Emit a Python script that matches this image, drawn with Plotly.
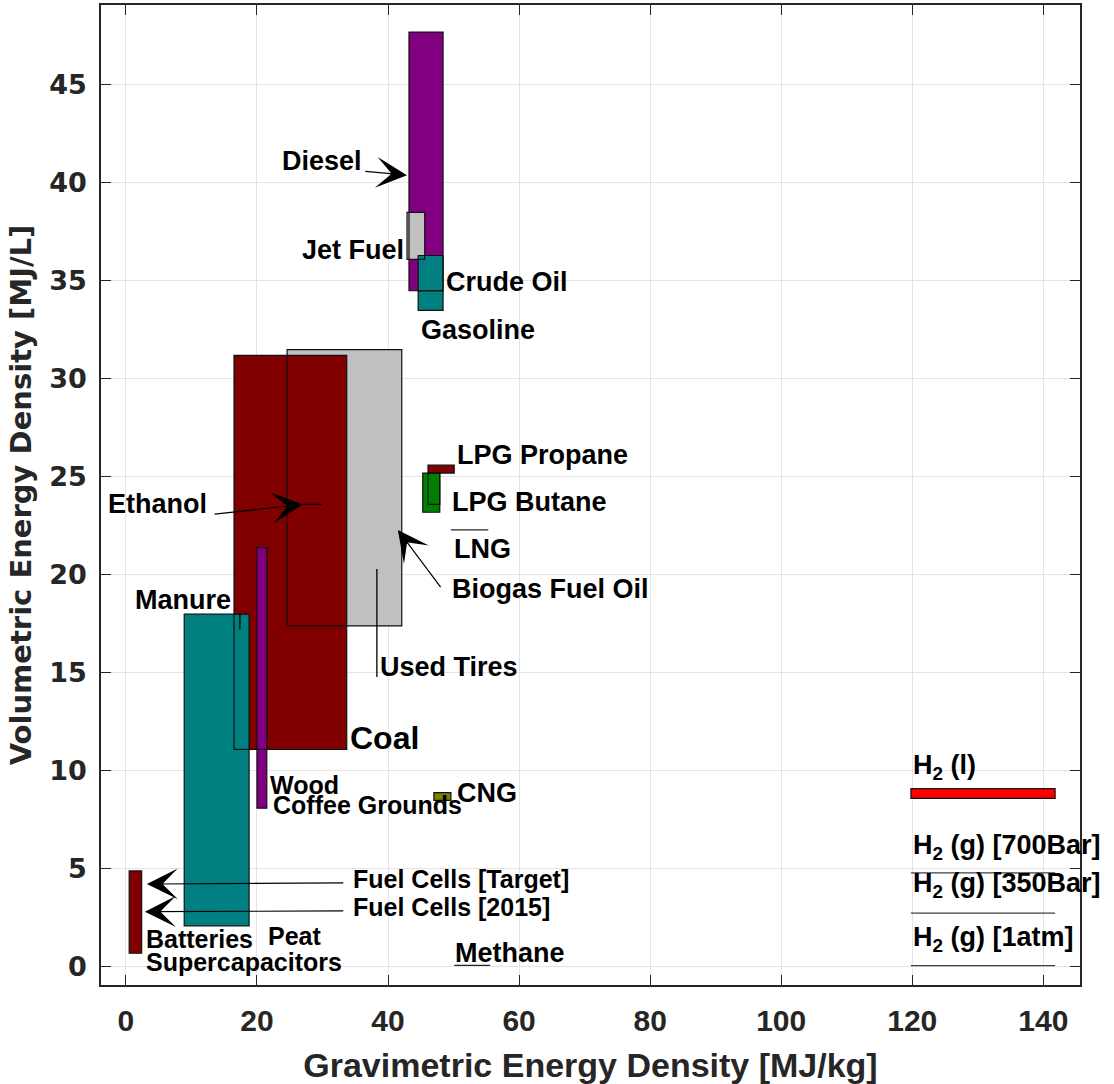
import plotly.graph_objects as go

# ---------------- data ----------------
box_names = ["Used Tires", "Coal", "Manure", "Wood", "Diesel", "Jet Fuel",
             "Crude Oil", "Gasoline", "LPG Butane", "LPG Butane 2",
             "LPG Propane", "CNG", "Batteries", "H2 (l)"]
box_xmin = [24.6, 16.5, 8.9, 20.0, 43.2, 42.9, 44.6, 44.6, 45.3, 46.1, 46.1, 47.0, 0.5, 119.8]
box_xmax = [42.1, 33.7, 18.8, 21.5, 48.4, 45.6, 48.4, 48.4, 47.9, 47.9, 50.1, 49.6, 2.4, 141.8]
box_ymin = [17.4, 11.1, 2.1, 8.1, 34.5, 36.1, 34.5, 33.5, 23.2, 23.6, 25.2, 8.5, 0.7, 8.6]
box_ymax = [31.5, 31.2, 18.0, 21.4, 47.7, 38.5, 36.3, 34.5, 25.2, 25.2, 25.6, 8.9, 4.9, 9.1]

line_names = ["Ethanol", "Used Tires mark", "Manure mark", "LNG", "Methane",
              "H2 700Bar", "H2 350Bar", "H2 1atm"]
line_x0 = [27.0, 38.3, 17.4, 49.6, 50.1, 119.8, 119.8, 119.8]
line_x1 = [29.9, 38.3, 17.4, 55.3, 55.6, 141.8, 141.8, 141.8]
line_y0 = [23.6, 14.8, 17.2, 22.3, 0.08, 4.8, 2.75, 0.07]
line_y1 = [23.6, 20.3, 18.0, 22.3, 0.08, 4.8, 2.75, 0.07]

arrow_names = ["Diesel", "Ethanol", "Biogas Fuel Oil", "Fuel Cells [Target]", "Fuel Cells [2015]"]
arrow_tail_x = [36.3, 13.3, 48.2, 33.4, 33.4]
arrow_tail_y = [40.6, 23.1, 19.3, 4.29, 2.86]
arrow_head_x = [42.9, 27.0, 41.5, 3.2, 2.9]
arrow_head_y = [40.4, 23.6, 22.3, 4.23, 2.82]

label_texts = ["Diesel", "Jet Fuel", "Crude Oil", "Gasoline", "Ethanol", "Manure",
               "Coal", "Used Tires", "LPG Propane", "LPG Butane", "LNG",
               "Biogas Fuel Oil", "Wood", "Coffee Grounds", "CNG",
               "Fuel Cells [Target]", "Fuel Cells [2015]", "Batteries",
               "Supercapacitors", "Peat", "Methane",
               "H<sub>2</sub> (l)", "H<sub>2</sub> (g) [700Bar]",
               "H<sub>2</sub> (g) [350Bar]", "H<sub>2</sub> (g) [1atm]"]
label_x = [23.5, 42.8, 48.5, 44.7, -3.05, 1.07, 33.9, 38.5, 50.2, 49.5, 49.7,
           49.5, 21.7, 22.1, 50.2, 34.3, 34.3, 2.75, 2.75, 21.4, 49.9,
           119.8, 119.8, 119.8, 119.8]
label_y = [41.1, 36.6, 34.95, 32.5, 23.6, 18.7, 11.7, 15.3, 26.1, 23.7, 21.3,
           19.3, 9.3, 8.27, 8.9, 4.5, 3.06, 1.43, 0.26, 1.58, 0.71,
           10.2, 6.1, 4.18, 1.43]

x_ticks = [0, 20, 40, 60, 80, 100, 120, 140]
y_ticks = [0, 5, 10, 15, 20, 25, 30, 35, 40, 45]

# ---------------- styles ----------------
box_color = {
    "Used Tires": "#C0C0C0", "Coal": "#800000", "Manure": "#008080",
    "Wood": "#800080", "Diesel": "#800080", "Jet Fuel": "#C0C0C0",
    "Crude Oil": "#008080", "Gasoline": "#008080", "LPG Butane": "#008000",
    "LPG Butane 2": "#008000", "LPG Propane": "#800000", "CNG": "#808000",
    "Batteries": "#800000", "H2 (l)": "#FF0000",
}
line_color = {
    "Ethanol": "#000000", "Used Tires mark": "#000000", "Manure mark": "#000000",
    "LNG": "#262626", "Methane": "#262626", "H2 700Bar": "#404040",
    "H2 350Bar": "#404040", "H2 1atm": "#404040",
}
left_anchor = {"Jet Fuel": "right"}
big_labels = {"Coal": 32}
small_labels = {"Wood", "Coffee Grounds", "Fuel Cells [Target]", "Fuel Cells [2015]",
                "Batteries", "Supercapacitors", "Peat"}

FONT = "Liberation Sans, Arial, sans-serif"
INK = "#262626"

fig = go.Figure()
# invisible trace to establish axes
fig.add_trace(go.Scatter(x=[box_xmin[0]], y=[box_ymin[0]], mode="markers",
                         marker=dict(opacity=0), hoverinfo="skip", showlegend=False))

shapes = []
# fills first
for n, x0, x1, y0, y1 in zip(box_names, box_xmin, box_xmax, box_ymin, box_ymax):
    shapes.append(dict(type="rect", xref="x", yref="y", x0=x0, x1=x1, y0=y0, y1=y1,
                       fillcolor=box_color[n], line=dict(width=0)))
# outlines on top
for n, x0, x1, y0, y1 in zip(box_names, box_xmin, box_xmax, box_ymin, box_ymax):
    shapes.append(dict(type="rect", xref="x", yref="y", x0=x0, x1=x1, y0=y0, y1=y1,
                       fillcolor="rgba(0,0,0,0)", line=dict(width=1.2, color="#111111")))
for n, x0, x1, y0, y1 in zip(line_names, line_x0, line_x1, line_y0, line_y1):
    shapes.append(dict(type="line", xref="x", yref="y", x0=x0, x1=x1, y0=y0, y1=y1,
                       line=dict(width=1.3, color=line_color[n])))

annotations = []
for n, tx, ty, hx, hy in zip(arrow_names, arrow_tail_x, arrow_tail_y, arrow_head_x, arrow_head_y):
    annotations.append(dict(x=hx, y=hy, ax=tx, ay=ty, xref="x", yref="y", axref="x", ayref="y",
                            text="", showarrow=True, arrowhead=3, arrowsize=4.3,
                            arrowwidth=1.2, arrowcolor="#000000", standoff=0))
for t, x, y in zip(label_texts, label_x, label_y):
    size = big_labels.get(t, 25 if t in small_labels else 27)
    annotations.append(dict(x=x, y=y, xref="x", yref="y", text=t, showarrow=False,
                            xanchor=left_anchor.get(t, "left"), yanchor="middle",
                            font=dict(family=FONT, size=size, color="#000000", weight="bold")))

fig.update_layout(
    width=1114, height=1084,
    margin=dict(l=101, r=34, t=5, b=99),
    paper_bgcolor="white", plot_bgcolor="white",
    shapes=shapes, annotations=annotations,
    showlegend=False,
)
fig.update_xaxes(
    range=[-3.8, 145.6], tickvals=x_ticks, ticktext=[str(v) for v in x_ticks],
    showgrid=True, gridcolor="#E3E3E3", gridwidth=1, zeroline=False,
    showline=True, linecolor=INK, linewidth=1.5, mirror="ticks",
    ticks="inside", ticklen=10, tickwidth=1.3, tickcolor=INK,
    tickfont=dict(family=FONT, size=30, color=INK, weight="bold"),
    ticklabelstandoff=8,
    title=dict(text="Gravimetric Energy Density [MJ/kg]", standoff=21,
               font=dict(family=FONT, size=34, color=INK, weight="bold")),
    automargin=False,
)
fig.update_yaxes(
    range=[-0.92, 49.08], tickvals=y_ticks, ticktext=[str(v) for v in y_ticks],
    showgrid=True, gridcolor="#E3E3E3", gridwidth=1, zeroline=False,
    showline=True, linecolor=INK, linewidth=1.5, mirror="ticks",
    ticks="inside", ticklen=10, tickwidth=1.3, tickcolor=INK,
    tickfont=dict(family="DejaVu Sans", size=27, color=INK, weight="bold"),
    ticklabelstandoff=7,
    title=dict(text="Volumetric Energy Density [MJ/L]", standoff=9,
               font=dict(family="DejaVu Sans", size=29, color=INK, weight="bold")),
    automargin=False,
)

fig.write_html("out.html")
